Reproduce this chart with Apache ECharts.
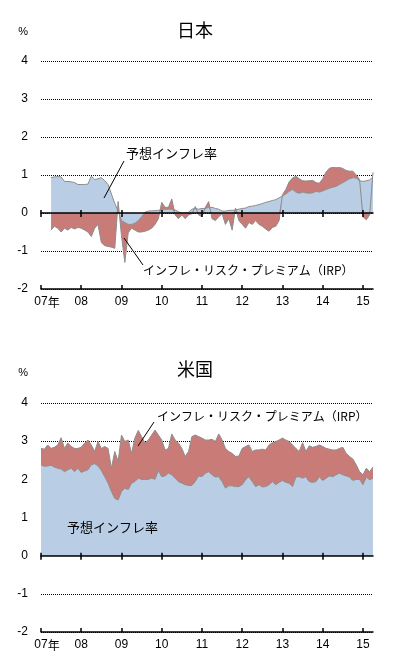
<!DOCTYPE html>
<html>
<head>
<meta charset="utf-8">
<script src="https://cdn.jsdelivr.net/npm/echarts@6/dist/echarts.min.js"></script>
<style>
  html, body { margin: 0; padding: 0; background: #fff; }
  #chart { width: 398px; height: 662px; }
</style>
</head>
<body>
<div id="chart"></div>
<script>
// 月次 2007/01 - 2015/04
const years = ['07', '08', '09', '10', '11', '12', '13', '14', '15']
const months = []
years.forEach(function (y) {
  for (let m = 1; m <= 12; m++) {
    if (y === '15' && m > 4) break
    months.push('20' + y + '-' + (m < 10 ? '0' + m : m))
  }
})

// 日本
const jpExpected = [
  null, null, null, 0.93, 0.95, 0.96, 0.95, 0.83, 0.83, 0.82, 0.80, 0.75,
  0.75, 0.75, 0.76, 0.97, 0.88, 0.90, 0.93, 0.85, 0.75, 0.50, 0.25, 0.05,
  -0.20, -0.25, -0.30, -0.30, -0.27, -0.20, -0.10, 0.02, 0.05, 0.06, 0.06, 0.07,
  0.08, 0.10, 0.10, 0.10, 0.08, 0.03, 0.00, 0.00, 0.02, 0.10, 0.12, 0.10,
  0.12, 0.12, 0.15, 0.15, 0.12, 0.10, 0.05, 0.05, 0.07, 0.07, 0.08, 0.10,
  0.12, 0.13, 0.17, 0.18, 0.20, 0.22, 0.25, 0.28, 0.30, 0.33, 0.35, 0.40,
  0.45, 0.50, 0.57, 0.62, 0.55, 0.52, 0.55, 0.53, 0.52, 0.53, 0.57, 0.55,
  0.58, 0.62, 0.65, 0.68, 0.70, 0.75, 0.80, 0.85, 0.90, 0.93, 0.92, 0.85,
  0.83, 0.85, 0.87, 0.95
]
const jpIRP = [
  null, null, null, -0.45, -0.35, -0.40, -0.50, -0.40, -0.45, -0.38, -0.42, -0.38,
  -0.40, -0.45, -0.50, -0.62, -0.40, -0.30, -0.78, -0.86, -0.88, -0.90, -0.93, 0.25,
  -0.40, -1.05, -0.22, -0.10, -0.18, -0.30, -0.40, -0.48, -0.45, -0.40, -0.30, -0.15,
  0.20, 0.05, 0.05, 0.27, -0.05, -0.15, -0.05, -0.15, -0.05, -0.02, 0.05, -0.05,
  -0.10, 0.03, 0.15, -0.15, -0.20, -0.10, -0.02, -0.30, -0.15, -0.45, 0.05, -0.20,
  -0.30, -0.40, -0.25, -0.30, -0.20, -0.30, -0.35, -0.42, -0.48, -0.38, -0.35, -0.20,
  0.03, 0.12, 0.25, 0.30, 0.42, 0.38, 0.30, 0.31, 0.33, 0.33, 0.23, 0.23,
  0.32, 0.46, 0.53, 0.52, 0.49, 0.45, 0.37, 0.27, 0.20, 0.17, 0.08, 0.03,
  -0.10, -0.18, -0.05, 0.12
]

// 米国
const usExpected = [
  2.38, 2.34, 2.35, 2.37, 2.32, 2.29, 2.27, 2.20, 2.25, 2.29, 2.20, 2.29,
  2.18, 2.22, 2.25, 2.38, 2.41, 2.35, 2.23, 2.07, 1.90, 1.68, 1.50, 1.46,
  1.68, 1.77, 1.73, 1.90, 1.94, 2.03, 2.00, 2.00, 2.00, 2.03, 2.00, 2.23,
  2.07, 2.09, 2.16, 2.12, 2.03, 1.94, 1.90, 1.86, 1.84, 1.84, 1.94, 2.09,
  2.07, 2.16, 2.20, 2.12, 2.06, 2.07, 1.94, 1.77, 1.83, 1.83, 1.81, 1.81,
  1.86, 1.99, 2.07, 1.94, 1.81, 1.86, 1.80, 1.81, 1.86, 1.94, 1.86, 1.92,
  1.97, 1.92, 1.90, 1.81, 2.06, 2.07, 2.03, 2.07, 1.94, 1.92, 1.94, 2.07,
  1.97, 2.03, 2.09, 2.07, 2.12, 2.16, 2.12, 2.09, 2.06, 1.97, 2.00, 2.00,
  1.86, 2.06, 1.99, 2.03
]
const usIRP = [
  0.43, 0.45, 0.55, 0.44, 0.52, 0.61, 0.82, 0.61, 0.70, 0.57, 0.61, 0.52,
  0.66, 0.73, 0.78, 0.52, 0.32, 0.64, 0.58, 0.79, 0.91, 0.61, 1.23, 1.01,
  1.48, 1.22, 1.30, 0.78, 1.14, 1.25, 1.12, 0.95, 1.03, 1.13, 1.29, 0.93,
  0.96, 0.68, 0.65, 1.07, 1.00, 1.01, 0.91, 0.74, 0.89, 1.28, 1.22, 1.03,
  1.01, 0.87, 0.83, 0.93, 0.93, 1.12, 1.09, 1.04, 0.90, 0.85, 0.79, 0.80,
  0.95, 0.87, 0.83, 0.79, 0.96, 0.91, 0.99, 0.96, 1.04, 1.02, 1.13, 1.11,
  1.11, 1.11, 1.09, 1.09, 0.75, 0.66, 0.93, 0.66, 0.94, 0.92, 0.92, 0.83,
  0.89, 0.78, 0.70, 0.70, 0.65, 0.65, 0.72, 0.59, 0.54, 0.56, 0.38, 0.20,
  0.26, 0.23, 0.21, 0.29
]

const blue = '#B9CDE5'
const red = '#C97B78'
const edge = '#8C8C8C'
const cjk = '"Noto Sans CJK JP", sans-serif'
const num = '"Liberation Sans", Arial, sans-serif'

const yearTick = function (i) { return i % 12 === 0 }

function bottomAxis(g) {
  return {
    type: 'category', gridIndex: g, data: months, boundaryGap: false,
    position: 'bottom',
    axisLine: { onZero: false, lineStyle: { color: '#000', width: 1.5 } },
    axisTick: { inside: true, length: 4, interval: yearTick, lineStyle: { color: '#000', width: 1.5 } },
    axisLabel: {
      interval: yearTick, margin: 7, color: '#000', fontSize: 12, fontFamily: num,
      formatter: function (v, i) {
        const y = v.slice(2, 4)
        return i === 0 ? '{a|' + y + '}{b|年}' : y
      },
      rich: {
        a: { align: 'left', fontSize: 12, fontFamily: num, color: '#000' },
        b: { align: 'left', width: 0, fontSize: 12, fontFamily: cjk, color: '#000' }
      }
    },
    splitLine: { show: false }
  }
}
function zeroAxis(g, y) {
  return {
    type: 'category', gridIndex: g, data: months, boundaryGap: false,
    position: 'bottom', z: 10,
    axisLine: { onZero: true, onZeroAxisIndex: y, lineStyle: { color: '#000', width: 1.5 } },
    axisTick: { length: 4, interval: yearTick, lineStyle: { color: '#000', width: 1.5 } },
    axisLabel: { show: false },
    splitLine: { show: false }
  }
}
function zeroAxisUp(g, y) {
  return {
    type: 'category', gridIndex: g, data: months, boundaryGap: false,
    position: 'top', z: 10,
    axisLine: { show: false, onZero: true, onZeroAxisIndex: y },
    axisTick: { length: 3, interval: yearTick, lineStyle: { color: '#000', width: 1.5 } },
    axisLabel: { show: false },
    splitLine: { show: false }
  }
}
function valAxis(g) {
  return {
    type: 'value', gridIndex: g, min: -2, max: 4, interval: 1,
    axisLine: { show: false }, axisTick: { show: false },
    axisLabel: { margin: 13, color: '#000', fontSize: 12, fontFamily: num },
    splitLine: { lineStyle: { type: 'dotted', color: '#000', width: 1 } }
  }
}
function area(name, data, xi, yi, stack, color) {
  return {
    name: name, type: 'line', data: data, xAxisIndex: xi, yAxisIndex: yi,
    stack: stack, stackStrategy: 'samesign', symbol: 'none', connectNulls: false,
    lineStyle: { color: edge, width: 1 },
    areaStyle: { color: color, opacity: 1 }
  }
}
function label(text, x, y, size) {
  return { type: 'text', x: x, y: y, z: 20,
    style: { text: text, fill: '#000', font: size + 'px ' + cjk, align: 'left', verticalAlign: 'middle' } }
}
function leader(x1, y1, x2, y2) {
  return { type: 'line', z: 20, shape: { x1: x1, y1: y1, x2: x2, y2: y2 },
    style: { stroke: '#000', lineWidth: 1 } }
}

let myChart = echarts.init(document.getElementById('chart'))
myChart.setOption({
  animation: false,
  grid: [
    { left: 41, right: 25, top: 61, height: 228 },
    { left: 41, right: 25, top: 403, height: 229 }
  ],
  xAxis: [bottomAxis(0), zeroAxis(0, 0), zeroAxisUp(0, 0), bottomAxis(1), zeroAxis(1, 1), zeroAxisUp(1, 1)],
  yAxis: [valAxis(0), valAxis(1)],
  series: [
    area('予想インフレ率', jpExpected, 0, 0, 'jp', blue),
    area('インフレ・リスク・プレミアム（IRP）', jpIRP, 0, 0, 'jp', red),
    area('予想インフレ率', usExpected, 3, 1, 'us', blue),
    area('インフレ・リスク・プレミアム（IRP）', usIRP, 3, 1, 'us', red)
  ],
  graphic: [
    { type: 'text', x: 195, y: 30, style: { text: '日本', fill: '#000', font: '18px ' + cjk, align: 'center', verticalAlign: 'middle' } },
    { type: 'text', x: 195, y: 369, style: { text: '米国', fill: '#000', font: '18px ' + cjk, align: 'center', verticalAlign: 'middle' } },
    { type: 'text', x: 28, y: 32, style: { text: '%', fill: '#000', font: '11px ' + num, align: 'right', verticalAlign: 'middle' } },
    { type: 'text', x: 28, y: 373, style: { text: '%', fill: '#000', font: '11px ' + num, align: 'right', verticalAlign: 'middle' } },
    label('予想インフレ率', 126, 153, 13),
    leader(124, 161, 104, 198),
    label('インフレ・リスク・プレミアム（IRP）', 143, 270, 12),
    leader(124, 238, 143, 265),
    label('インフレ・リスク・プレミアム（IRP）', 157, 416, 12),
    leader(154, 422, 138, 446),
    label('予想インフレ率', 67, 527, 13)
  ]
})
</script>
</body>
</html>
